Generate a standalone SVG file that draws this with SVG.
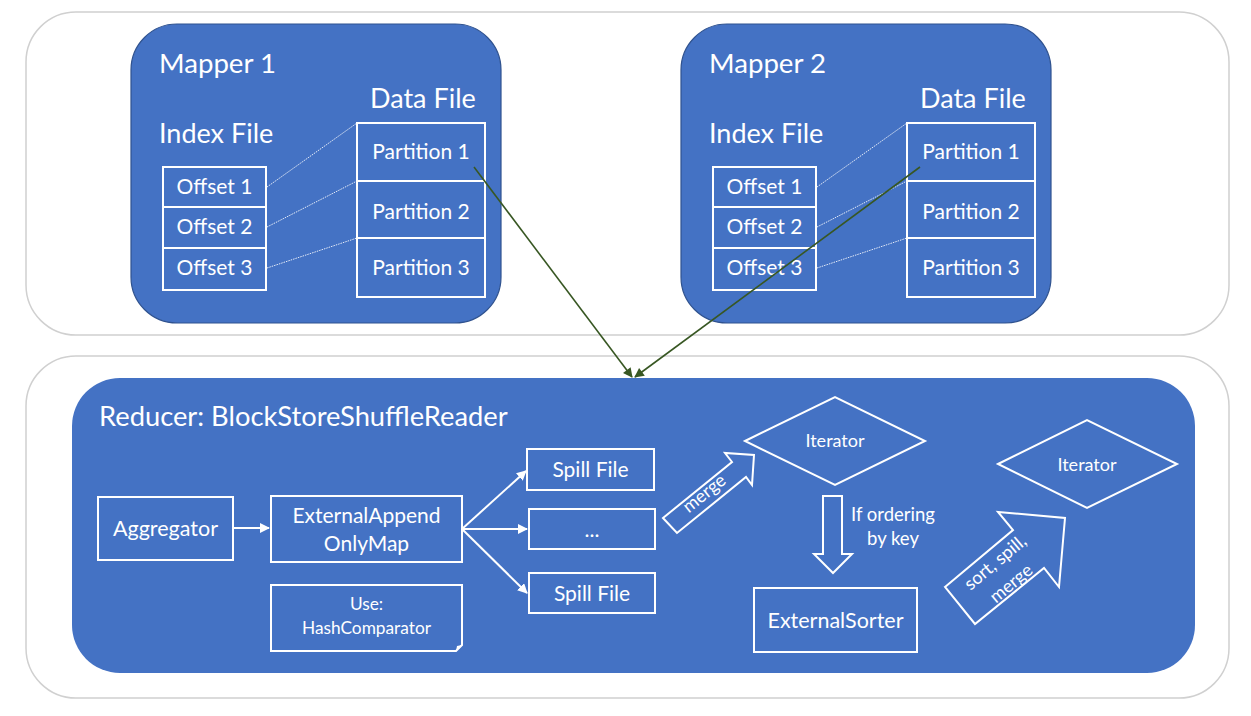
<svg xmlns="http://www.w3.org/2000/svg" width="1251" height="716" viewBox="0 0 1251 716">
<style>
.outer{fill:#fff;stroke:#d0d0d0;stroke-width:1.5}
.mapper{fill:#4472c4;stroke:#2f528f;stroke-width:1.2}
.box{fill:none;stroke:#fff;stroke-width:2}
.t{fill:#fff;font-family:Lato,"Liberation Sans",sans-serif}
.title{font-size:27.6px}
.sub{font-size:27px}
.bt{font-size:21px}
.dot{stroke:#fff;stroke-width:1;stroke-dasharray:1.5 1;fill:none;opacity:0.85}
.wl{stroke:#fff;stroke-width:2;fill:none}
.gl{stroke:#385723;stroke-width:1.6;fill:none}
</style>
<defs>
<marker id="wa" viewBox="0 0 10 10" refX="9" refY="5" markerWidth="5" markerHeight="5" orient="auto" markerUnits="strokeWidth"><path d="M0,0 L10,5 L0,10 Z" fill="#fff"/></marker>
<marker id="ga" viewBox="0 0 10 10" refX="9" refY="5" markerWidth="7" markerHeight="6" orient="auto" markerUnits="strokeWidth"><path d="M0,0 L10,5 L0,10 Z" fill="#385723"/></marker>
</defs>
<g id="mappers-area"><rect class="outer" x="26" y="12" width="1203" height="323" rx="50"/></g>
<g id="reducer-area"><rect class="outer" x="26" y="356" width="1203" height="342" rx="50"/></g>
<g id="mapper1">
<rect class="mapper" x="131" y="24" width="370" height="299" rx="46"/>
<text class="t title" x="159" y="73">Mapper 1</text>
<text class="t sub" x="370" y="108">Data File</text>
<text class="t sub" x="159" y="143">Index File</text>
<rect class="box" x="163" y="167" width="103" height="40"/>
<rect class="box" x="163" y="207" width="103" height="41"/>
<rect class="box" x="163" y="248" width="103" height="42"/>
<text class="t bt" x="214.5" y="194" text-anchor="middle">Offset 1</text>
<text class="t bt" x="214.5" y="234" text-anchor="middle">Offset 2</text>
<text class="t bt" x="214.5" y="275" text-anchor="middle">Offset 3</text>
<rect class="box" x="357" y="123" width="128" height="58"/>
<rect class="box" x="357" y="181" width="128" height="57"/>
<rect class="box" x="357" y="238" width="128" height="59"/>
<text class="t bt" x="421" y="159" text-anchor="middle">Partition 1</text>
<text class="t bt" x="421" y="219" text-anchor="middle">Partition 2</text>
<text class="t bt" x="421" y="275" text-anchor="middle">Partition 3</text>
<path class="dot" d="M267,187 L357,123 M267,227 L357,181 M267,268 L357,238"/>
</g>
<g id="mapper2">
<rect class="mapper" x="681" y="24" width="370" height="299" rx="46"/>
<text class="t title" x="709" y="73">Mapper 2</text>
<text class="t sub" x="920" y="108">Data File</text>
<text class="t sub" x="709" y="143">Index File</text>
<rect class="box" x="713" y="167" width="103" height="40"/>
<rect class="box" x="713" y="207" width="103" height="41"/>
<rect class="box" x="713" y="248" width="103" height="42"/>
<text class="t bt" x="764.5" y="194" text-anchor="middle">Offset 1</text>
<text class="t bt" x="764.5" y="234" text-anchor="middle">Offset 2</text>
<text class="t bt" x="764.5" y="275" text-anchor="middle">Offset 3</text>
<rect class="box" x="907" y="123" width="128" height="58"/>
<rect class="box" x="907" y="181" width="128" height="57"/>
<rect class="box" x="907" y="238" width="128" height="59"/>
<text class="t bt" x="971" y="159" text-anchor="middle">Partition 1</text>
<text class="t bt" x="971" y="219" text-anchor="middle">Partition 2</text>
<text class="t bt" x="971" y="275" text-anchor="middle">Partition 3</text>
<path class="dot" d="M817,187 L907,123 M817,227 L907,181 M817,268 L907,238"/>
</g>
<g id="reducer">
<rect x="72" y="378" width="1123" height="295" rx="48" fill="#4472c4"/>
<text class="t" font-size="27.3" x="99" y="426">Reducer: BlockStoreShuffleReader</text>
</g>
<g id="aggregator">
<rect class="box" x="98" y="497" width="135" height="63"/>
<text class="t" font-size="21.5" x="165.5" y="536" text-anchor="middle">Aggregator</text>
</g>
<g id="eaom">
<rect class="box" x="271" y="496" width="191" height="66"/>
<text class="t bt" x="366.5" y="523" text-anchor="middle">ExternalAppend</text>
<text class="t bt" x="366.5" y="551" text-anchor="middle">OnlyMap</text>
</g>
<g id="hashcomp">
<path class="box" d="M271,585 H462 V645 L456,651 H271 Z"/>
<path d="M456,651 L457,646 L462,645 Z" fill="#fff"/>
<text class="t" font-size="17.3" x="366.5" y="610" text-anchor="middle">Use:</text>
<text class="t" font-size="17.3" x="366.5" y="634" text-anchor="middle">HashComparator</text>
</g>
<g id="spill1">
<rect class="box" x="527" y="449" width="127" height="41"/>
<text class="t bt" x="590.5" y="477" text-anchor="middle">Spill File</text>
</g>
<g id="spill2">
<rect class="box" x="529" y="509" width="126" height="40"/>
<text class="t bt" x="592" y="537" text-anchor="middle">...</text>
</g>
<g id="spill3">
<rect class="box" x="529" y="573" width="126" height="40"/>
<text class="t bt" x="592" y="601" text-anchor="middle">Spill File</text>
</g>
<g id="merge-arrow">
<path class="box" d="M663,518 L732,462 L725,453 L754,455 L752,485 L746,477 L677,533 Z"/>
<text class="t" font-size="18" transform="translate(708,498) rotate(-39)" text-anchor="middle">merge</text>
</g>
<g id="iterator1">
<path class="box" d="M745,441 L835,397 L925,441 L835,485 Z"/>
<text class="t" font-size="18" x="835" y="447" text-anchor="middle">Iterator</text>
</g>
<g id="ordering-arrow">
<path class="box" d="M823,496 H842 V554 H852 L833,573 L814,554 H823 Z"/>
<text class="t" font-size="18.5" x="893" y="521" text-anchor="middle">If ordering</text>
<text class="t" font-size="18.5" x="893" y="545" text-anchor="middle">by key</text>
</g>
<g id="externalsorter">
<rect class="box" x="754" y="588" width="163" height="64"/>
<text class="t" font-size="21.5" x="835.5" y="628" text-anchor="middle">ExternalSorter</text>
</g>
<g id="sort-arrow">
<path class="box" d="M945,587 L1013,530 L998,512 L1065,518 L1059,587 L1044,568 L975,624 Z"/>
<text class="t" font-size="18" transform="translate(999,567) rotate(-40)" text-anchor="middle">sort, spill,</text>
<text class="t" font-size="18" transform="translate(1015,588) rotate(-40)" text-anchor="middle">merge</text>
</g>
<g id="iterator2">
<path class="box" d="M998,464 L1087,420 L1177,464 L1087,508 Z"/>
<text class="t" font-size="18" x="1087" y="471" text-anchor="middle">Iterator</text>
</g>
<g id="connectors">
<path class="wl" d="M233,528 L269,528" marker-end="url(#wa)"/>
<path class="wl" d="M462,529 L526,471" marker-end="url(#wa)"/>
<path class="wl" d="M462,529 L527,529" marker-end="url(#wa)"/>
<path class="wl" d="M462,529 L527,593" marker-end="url(#wa)"/>
<path class="gl" d="M474,167 L632,377" marker-end="url(#ga)"/>
<path class="gl" d="M920,167 L635,377" marker-end="url(#ga)"/>
</g>
</svg>
